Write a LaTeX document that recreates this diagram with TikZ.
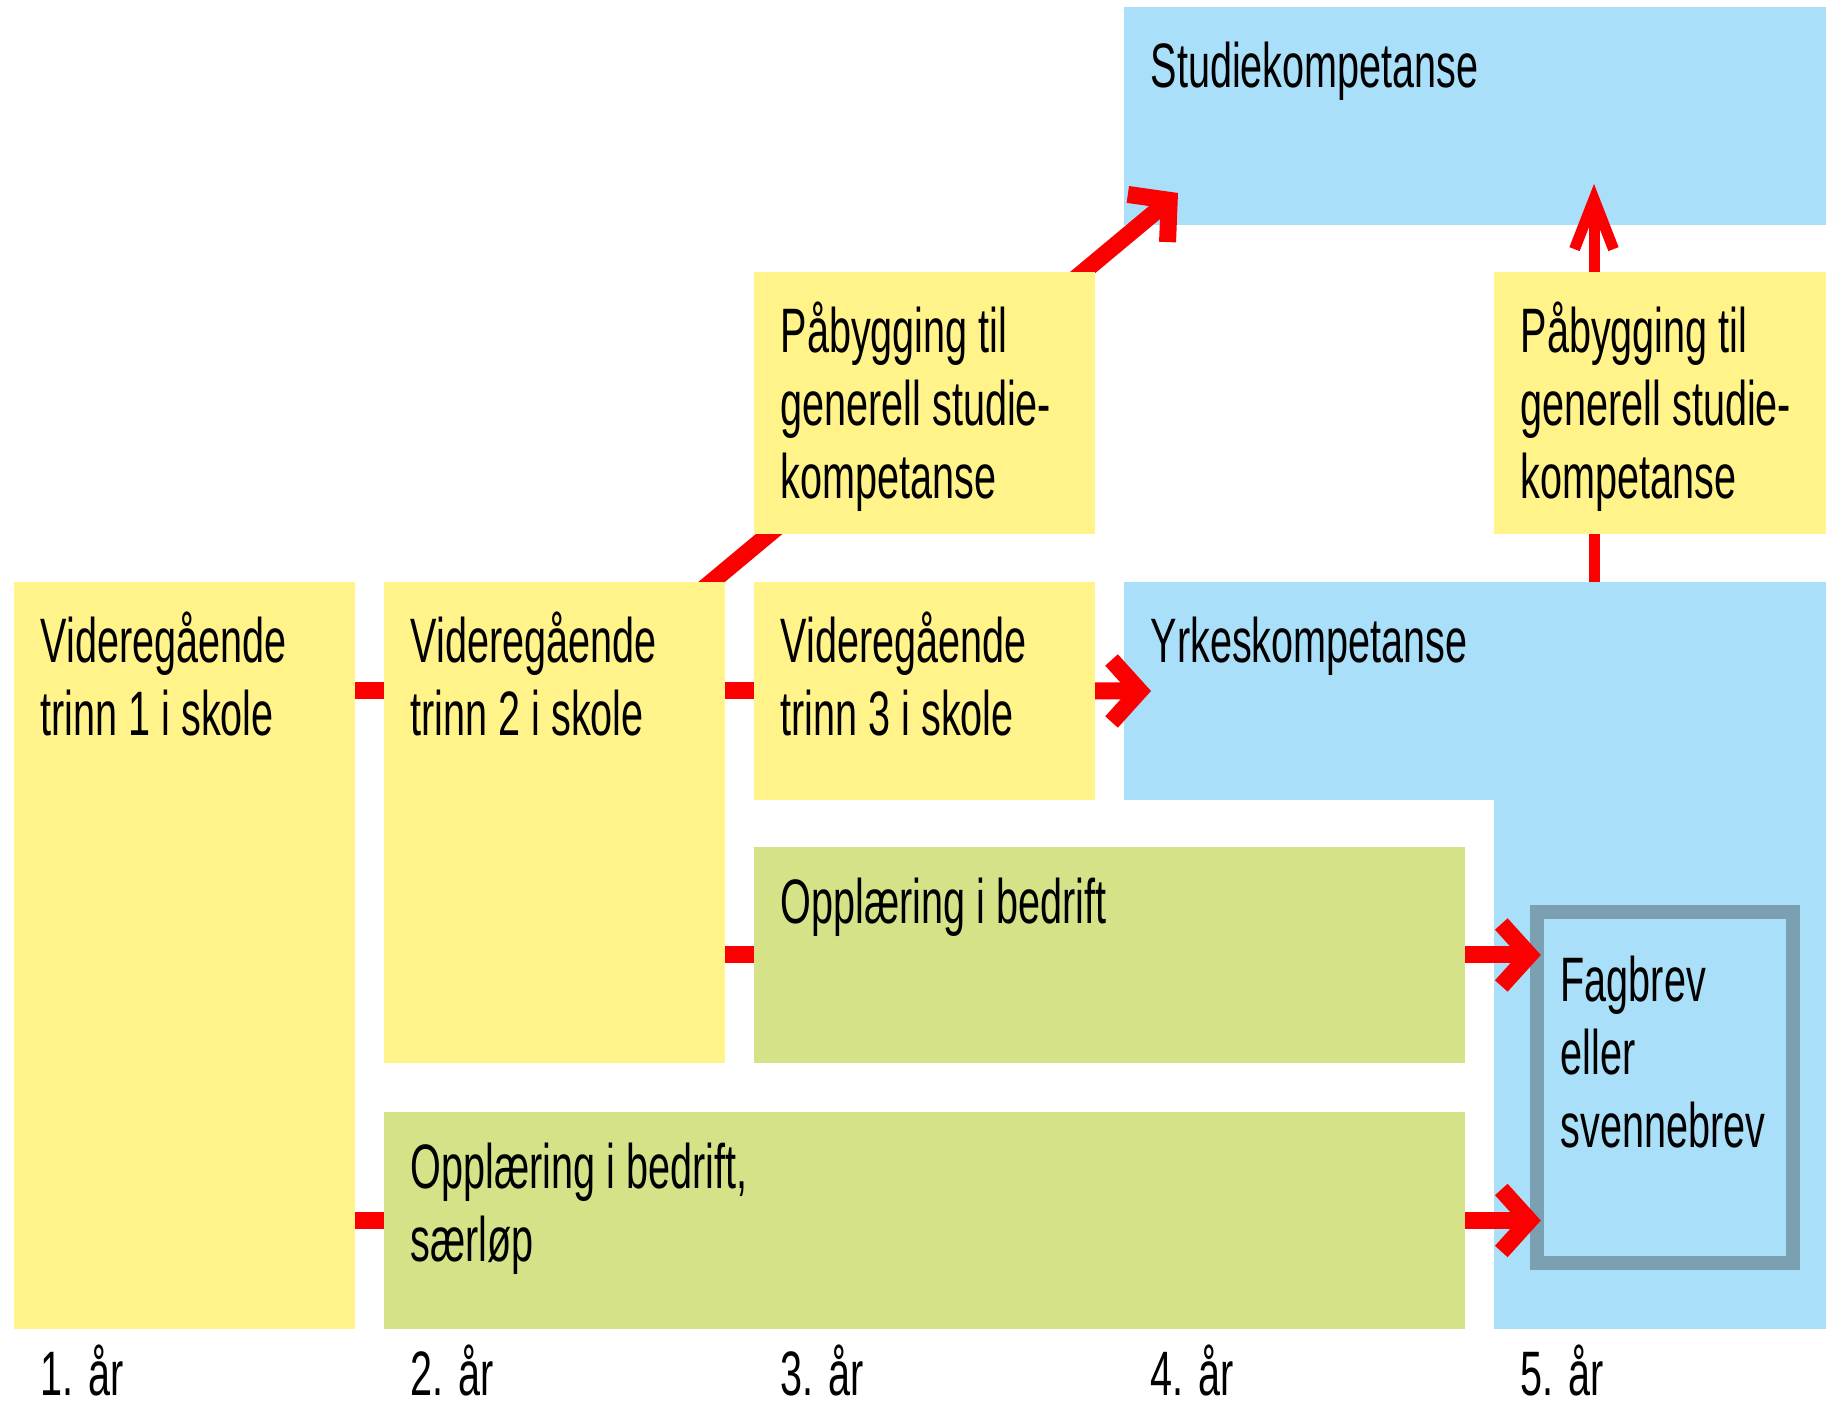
\documentclass[tikz,border=0pt]{standalone}
\usepackage{fontspec}
\setmainfont{Liberation Sans}[FakeStretch=0.63]
\usetikzlibrary{arrows.meta,calc}
\definecolor{vgyellow}{RGB}{255,243,137}
\definecolor{oppgreen}{RGB}{213,226,136}
\definecolor{kompblue}{RGB}{169,223,248}
\definecolor{fagframe}{RGB}{122,160,177}
\definecolor{pathred}{RGB}{250,0,0}
\newcommand\topstrut{\rule{0pt}{6.5mm}}
\pgfdeclarelayer{back}
\pgfsetlayers{back,main}

\begin{document}
\begin{tikzpicture}[
  box/.style={inner sep=0pt,outer sep=0pt,anchor=north west},
  txt/.style={inner sep=0pt,anchor=north west,align=left,
    font=\fontsize{17.87pt}{20.78pt}\selectfont},
  link/.style={draw=pathred,line width=1.7mm},
  arr/.style={link,-{Straight Barb[sharp,length=2.8mm,width=6.2mm]}},
  uparr/.style={draw=pathred,line width=1.1mm,-{Straight Barb[sharp,length=5mm,width=3.9mm]}}
]
\useasboundingbox (0mm,0mm) rectangle (182.6mm,-140.4mm);
% kompetanse areas at the back
\begin{pgfonlayer}{back}
\node[box,fill=kompblue,minimum width=70.2mm,minimum height=21.8mm] (studie) at (112.4mm,-0.7mm) {};
\node[box,fill=kompblue,minimum width=70.2mm,minimum height=21.8mm] (yrkes) at (112.4mm,-58.2mm) {};
\node[box,fill=kompblue,minimum width=33.2mm,minimum height=53.0mm] (yrkes_b) at (149.4mm,-79.9mm) {};
\end{pgfonlayer}
% school years
\node[box,fill=vgyellow,minimum width=34.1mm,minimum height=74.7mm] (vg_1) at (1.4mm,-58.2mm) {};
\node[box,fill=vgyellow,minimum width=34.1mm,minimum height=48.1mm] (vg_2) at (38.4mm,-58.2mm) {};
\node[box,fill=vgyellow,minimum width=34.1mm,minimum height=21.8mm] (vg_3) at (75.4mm,-58.2mm) {};
\node[box,fill=vgyellow,minimum width=34.1mm,minimum height=26.2mm] (pab_1) at (75.4mm,-27.2mm) {};
\node[box,fill=vgyellow,minimum width=33.2mm,minimum height=26.2mm] (pab_2) at (149.4mm,-27.2mm) {};
% training in company
\node[box,fill=oppgreen,minimum width=71.1mm,minimum height=21.6mm] (opp) at (75.4mm,-84.7mm) {};
\node[box,fill=oppgreen,minimum width=108.1mm,minimum height=21.7mm] (opp_s) at (38.4mm,-111.2mm) {};
\node[draw=fagframe,line width=1.4mm,minimum width=25.65mm,minimum height=35.1mm] (fag) at (166.5mm,-108.75mm) {};
% texts
\node[txt] (t_studie) at (115mm,-2.2mm) {\topstrut Studiekompetanse};
\node[txt] (t_yrkes) at (115mm,-59.7mm) {\topstrut Yrkeskompetanse};
\node[txt] (t_pab_1) at (78mm,-28.7mm) {\topstrut Påbygging til\\generell studie-\\kompetanse};
\node[txt] (t_pab_2) at (152mm,-28.7mm) {\topstrut Påbygging til\\generell studie-\\kompetanse};
\node[txt] (t_vg_1) at (4mm,-59.7mm) {\topstrut Videregående\\trinn 1 i skole};
\node[txt] (t_vg_2) at (41mm,-59.7mm) {\topstrut Videregående\\trinn 2 i skole};
\node[txt] (t_vg_3) at (78mm,-59.7mm) {\topstrut Videregående\\trinn 3 i skole};
\node[txt] (t_opp) at (78mm,-85.8mm) {\topstrut Opplæring i bedrift};
\node[txt] (t_opp_s) at (41mm,-112.3mm) {\topstrut Opplæring i bedrift,\\særløp};
\node[txt] (t_fag) at (156mm,-93.6mm) {\topstrut Fagbrev\\eller\\svennebrev};
\node[txt] (yr_1) at (4mm,-133mm) {\topstrut 1. år};
\node[txt] (yr_2) at (41mm,-133mm) {\topstrut 2. år};
\node[txt] (yr_3) at (78mm,-133mm) {\topstrut 3. år};
\node[txt] (yr_4) at (115mm,-133mm) {\topstrut 4. år};
\node[txt] (yr_5) at (152mm,-133mm) {\topstrut 5. år};
% paths
\coordinate (tip_s) at (117.8mm,-19.3mm);
\coordinate (tip_u) at (159.4mm,-18.4mm);
\coordinate (tip_y) at (115.1mm,-69.1mm);
\begin{pgfonlayer}{back}
\draw[arr] ($(vg_2.north east)+(-2.9mm,-1.3mm)$) -- (tip_s);
\draw[uparr] (tip_u |- yrkes.north) -- (tip_u);
\end{pgfonlayer}
\draw[link] (vg_1.east |- vg_3.center) -- (vg_2.west |- vg_3.center);
\draw[link] (vg_2.east |- vg_3.center) -- (vg_3.west);
\draw[arr] (vg_3.east) -- (tip_y);
\draw[link] (vg_2.east |- opp.center) -- (opp.west);
\draw[link] (vg_1.east |- opp_s.center) -- (opp_s.west);
\draw[arr] (opp.east) -- ($(fag.west |- opp.east)+(1.1mm,0)$);
\draw[arr] (opp_s.east) -- ($(fag.west |- opp_s.east)+(1.1mm,0)$);
\end{tikzpicture}
\end{document}
